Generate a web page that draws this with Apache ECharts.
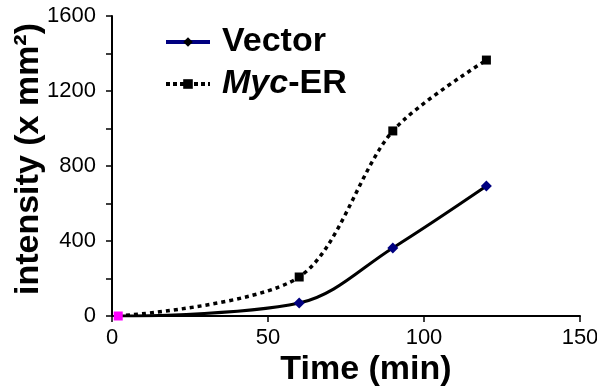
<!DOCTYPE html>
<html><head><meta charset="utf-8">
<script src="https://cdn.jsdelivr.net/npm/echarts@6/dist/echarts.min.js"></script>
<style>html,body{margin:0;padding:0;background:#fff}#c{width:597px;height:386px}</style>
</head><body><div id="c"></div>
<script>
const seriesNames = ['Vector', 'Myc-ER'];
const times = [2, 60, 90, 120];
const vectorVals = [0, 69, 363, 693];
const mycVals = [0, 208, 987, 1365];
const xTicks = [0, 50, 100, 150];
const yTicks = [0, 400, 800, 1200, 1600];

const font = '"Liberation Sans", Arial, sans-serif';
const chart = echarts.init(document.getElementById('c'));
const vecData = times.map((t, i) => i === 0 ? {value: [t, vectorVals[i]], symbol: 'none'} : [t, vectorVals[i]]);
const mycData = times.map((t, i) => i === 0 ? {value: [t, mycVals[i]], itemStyle: {color: '#ff00ff'}} : [t, mycVals[i]]);

chart.setOption({
  animation: false,
  backgroundColor: '#fff',
  grid: {left: 112, right: 17, top: 16, bottom: 70, outerBoundsMode: 'none', containLabel: false},
  legend: {
    orient: 'vertical', left: 159, top: 20, itemGap: 8, itemWidth: 44, itemHeight: 12,
    textStyle: {fontFamily: font, fontWeight: 'bold', fontSize: 34, color: '#000', padding: [0, 0, 0, 7],
      rich: {i: {fontFamily: font, fontWeight: 'bold', fontStyle: 'italic', fontSize: 34, color: '#000'}}},
    formatter: n => n === 'Myc-ER' ? '{i|Myc}-ER' : n,
    data: [
      {name: seriesNames[0], itemStyle: {color: '#000'}, lineStyle: {color: '#000080', width: 4}},
      {name: seriesNames[1], itemStyle: {color: '#000'}, lineStyle: {color: '#000', width: 4, type: [4, 3]}}
    ]
  },
  xAxis: {
    type: 'value', min: xTicks[0], max: xTicks[xTicks.length - 1], interval: 50,
    name: 'Time (min)', nameLocation: 'middle', nameGap: 37, nameMoveOverlap: false,
    nameTextStyle: {fontFamily: font, fontWeight: 'bold', fontSize: 34, color: '#000', padding: [0, 0, 0, 40]},
    axisLine: {lineStyle: {color: '#000', width: 2}},
    axisTick: {show: true, length: 6, lineStyle: {color: '#000', width: 1.5}},
    axisLabel: {fontFamily: font, fontSize: 22, color: '#000', margin: 11, formatter: v => String(v)},
    splitLine: {show: false}
  },
  yAxis: {
    type: 'value', min: yTicks[0], max: yTicks[yTicks.length - 1], interval: 400,
    name: 'intensity (x mm²)', nameLocation: 'middle', nameRotate: 90, nameGap: 66, nameMoveOverlap: false,
    nameTextStyle: {fontFamily: font, fontWeight: 'bold', fontSize: 34, color: '#000', padding: [0, 0, 0, 14]},
    axisLine: {show: true, lineStyle: {color: '#000', width: 2}},
    axisTick: {show: true, length: 6, lineStyle: {color: '#000', width: 1.5}},
    minorTick: {show: true, splitNumber: 2, length: 6, lineStyle: {color: '#000', width: 1.5}},
    axisLabel: {fontFamily: font, fontSize: 22, color: '#000', margin: 16, formatter: v => String(v)},
    splitLine: {show: false}
  },
  series: [
    {name: seriesNames[0], type: 'line', smooth: 0.35, data: vecData,
      symbol: 'diamond', symbolSize: 11, lineStyle: {color: '#000', width: 3},
      itemStyle: {color: '#000080'}},
    {name: seriesNames[1], type: 'line', smooth: 0.3, data: mycData,
      symbol: 'rect', symbolSize: 9, lineStyle: {color: '#000', width: 3.5, type: [4, 4]},
      itemStyle: {color: '#000'}}
  ]
});
</script></body></html>
